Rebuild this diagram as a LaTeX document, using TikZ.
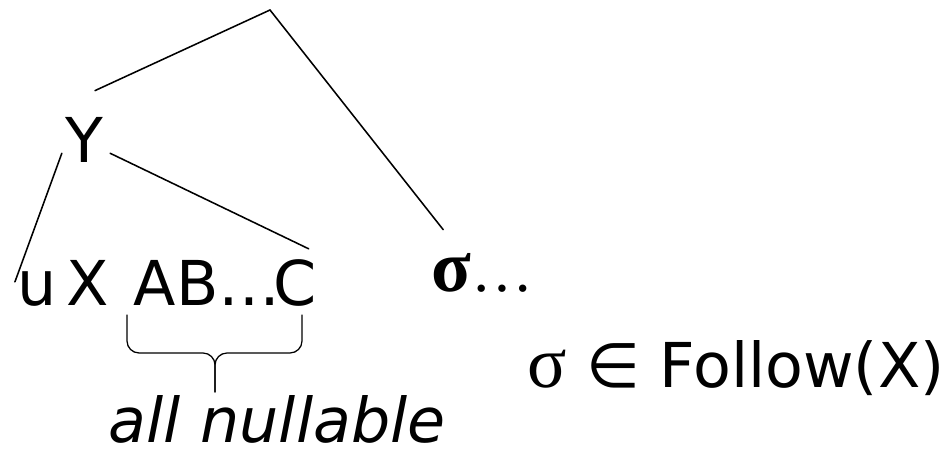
\documentclass[tikz,border=0pt]{standalone}
\usepackage{fontspec}
\setmainfont{DejaVu Sans}[ItalicFont={DejaVu Sans Oblique}]
\newfontfamily\greekserif{Liberation Serif}
\newcommand{\bigsig}{{\fontsize{52}{60}\selectfont σ}}
\usetikzlibrary{positioning}

\tikzset{
  word/.style={inner sep=0pt, font=\fontsize{44}{52}\selectfont},
  serifword/.style={inner sep=0pt, font=\fontsize{44}{52}\selectfont\greekserif},
  branch/.style={line width=1.1pt, line cap=round},
}

\begin{document}
\begin{tikzpicture}
    \useasboundingbox (0,0) rectangle (23.7,11.35);
    % tree
    \coordinate (root) at (6.75,11.1);
    \node[word, anchor=base] (Y) at (2.1,7.275) {Y};
    \node[word, anchor=base] (u) at (0.93,3.7) {u};
    \node[word, base right=0.22cm of u] (X) {X};
    \node[word, base right=0.62cm of X] (ab) {AB…};
    \node[word, base right=-0.2cm of ab] (C) {C};
    \node[serifword, anchor=base west] (sig) at (10.78,4.05) {{\bfseries\bigsig}…};
    \draw[branch] (root) -- ([xshift=0.275cm,yshift=0.675cm]Y.north);
    \draw[branch] (root) -- ([xshift=0.3cm,yshift=0.6cm]sig.north west);
    \draw[branch] ([xshift=-0.075cm,yshift=0.25cm]Y.south west) -- ([xshift=-0.06cm,yshift=0.18cm]u.west);
    \draw[branch] ([xshift=0.175cm,yshift=0.25cm]Y.south east) -- ([xshift=0.35cm,yshift=0.275cm]C.north);
    % brace under AB...C
    \draw[branch, line width=0.9pt, rounded corners=0.3cm] (3.175,3.475) -- (3.175,2.525) -- (5.375,2.525) -- (5.375,1.55);
    \draw[branch, line width=0.9pt, rounded corners=0.3cm] (7.55,3.475) -- (7.55,2.525) -- (5.375,2.525) -- (5.375,1.55);
    \node[word, anchor=base] (nullable) at (6.93,0.28) {\itshape all nullable};
    \node[word, anchor=base east] (follow) at (23.62,1.65) {{\greekserif\bigsig} ∈ Follow(X)};
\end{tikzpicture}
\end{document}
